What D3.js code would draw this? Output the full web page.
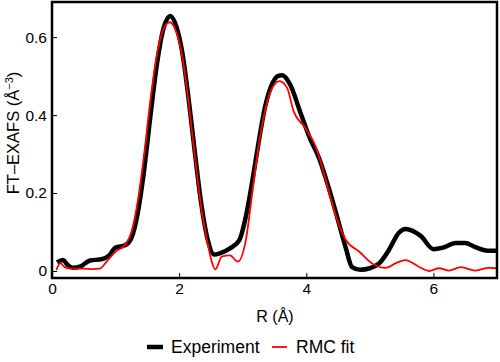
<!DOCTYPE html>
<html>
<head>
<meta charset="utf-8">
<script src="https://cdn.jsdelivr.net/npm/d3@7"></script>
<style>
  body { margin: 0; background: #fff; }
  text { font-family: "Liberation Sans", Arial, sans-serif; fill: #000; }
</style>
</head>
<body>
<div id="chart-area"></div>
<script>
// Experiment (black) — R in Å, FT magnitude
var expR = [0.08, 0.17, 0.25, 0.33, 0.45, 0.6, 0.78, 0.9, 1.0, 1.15, 1.25, 1.35, 1.45, 1.55, 1.65, 1.75, 1.86, 1.95, 2.05, 2.15, 2.25, 2.35, 2.45, 2.55, 2.65, 2.8, 2.95, 3.05, 3.15, 3.25, 3.35, 3.45, 3.55, 3.62, 3.75, 3.9, 4.05, 4.2, 4.35, 4.5, 4.62, 4.72, 4.85, 5.0, 5.15, 5.3, 5.45, 5.56, 5.8, 6.0, 6.15, 6.35, 6.5, 6.65, 6.85, 7.0];
var expY = [0.022, 0.028, 0.015, 0.008, 0.012, 0.027, 0.030, 0.040, 0.060, 0.066, 0.085, 0.15, 0.26, 0.40, 0.53, 0.62, 0.654, 0.63, 0.56, 0.44, 0.30, 0.17, 0.08, 0.042, 0.046, 0.058, 0.08, 0.14, 0.23, 0.33, 0.42, 0.475, 0.50, 0.502, 0.477, 0.41, 0.343, 0.29, 0.215, 0.13, 0.06, 0.01, 0.003, 0.007, 0.02, 0.054, 0.097, 0.108, 0.09, 0.056, 0.06, 0.072, 0.072, 0.062, 0.052, 0.052];

// RMC fit (red)
var rmcR = [0.07, 0.13, 0.2, 0.3, 0.5, 0.65, 0.75, 0.86, 1.0, 1.15, 1.25, 1.35, 1.45, 1.55, 1.65, 1.75, 1.85, 1.95, 2.05, 2.15, 2.25, 2.35, 2.45, 2.52, 2.57, 2.67, 2.8, 2.92, 3.05, 3.15, 3.25, 3.35, 3.45, 3.58, 3.7, 3.8, 3.98, 4.15, 4.25, 4.36, 4.47, 4.62, 4.83, 5.03, 5.25, 5.41, 5.56, 5.77, 5.93, 6.09, 6.24, 6.43, 6.66, 6.87, 7.0];
var rmcY = [0.003, 0.02, 0.01, 0.006, 0.006, 0.005, 0.006, 0.024, 0.05, 0.067, 0.1, 0.18, 0.30, 0.44, 0.555, 0.62, 0.638, 0.615, 0.55, 0.43, 0.29, 0.16, 0.07, 0.02, 0.004, 0.037, 0.04, 0.024, 0.08, 0.2, 0.32, 0.41, 0.465, 0.487, 0.469, 0.41, 0.368, 0.318, 0.267, 0.2, 0.139, 0.08, 0.05, 0.02, 0.008, 0.02, 0.028, 0.011, 0.0, 0.007, 0.001, 0.01, 0.001, 0.008, 0.007];

var xTicks = [0, 2, 4, 6];
var yTicks = [0, 0.2, 0.4, 0.6];

var margin = { top: 2, left: 52, bottom: 84, right: 3 };
var width = 500 - margin.left - margin.right;
var height = 362 - margin.top - margin.bottom;

var svg = d3.select('#chart-area').append('svg')
    .attr('width', 500)
    .attr('height', 362);

var g = svg.append('g').attr('transform', `translate(${margin.left}, ${margin.top})`);

var x = d3.scaleLinear().domain([0, 7]).range([0, width]);
var y = d3.scaleLinear().domain([-0.018, 0.69]).range([height, 0]);

var line = d3.line()
    .x(d => x(d[0]))
    .y(d => y(d[1]))
    .curve(d3.curveMonotoneX);

var expData = expR.map((r, i) => [r, expY[i]]);
var rmcData = rmcR.map((r, i) => [r, rmcY[i]]);

g.append('path').datum(expData)
    .attr('d', line)
    .attr('fill', 'none')
    .attr('stroke', '#000')
    .attr('stroke-width', 4.5)
    .attr('stroke-linejoin', 'round');

g.append('path').datum(rmcData)
    .attr('d', line)
    .attr('fill', 'none')
    .attr('stroke', '#ff0000')
    .attr('stroke-width', 1.8)
    .attr('stroke-linejoin', 'round');

// axes, ticks pointing inward
var xAxis = g.append('g').attr('transform', `translate(0, ${height})`)
    .call(d3.axisBottom(x).tickValues(xTicks).tickSizeInner(-5).tickSizeOuter(0).tickPadding(5).tickFormat(d3.format('d')));
var yAxis = g.append('g')
    .call(d3.axisLeft(y).tickValues(yTicks).tickSizeInner(-5).tickSizeOuter(0).tickPadding(5).tickFormat(d => d === 0 ? '0' : d3.format('.1f')(d)));

[xAxis, yAxis].forEach(a => {
    a.select('.domain').remove();
    a.selectAll('.tick line').attr('stroke', '#000').attr('stroke-width', 1);
    a.selectAll('.tick text').attr('font-size', '15.5px').attr('fill', '#000')
        .style('font-family', '"Liberation Sans", Arial, sans-serif');
});

// frame
g.append('rect')
    .attr('x', 0).attr('y', 0)
    .attr('width', width).attr('height', height)
    .attr('fill', 'none')
    .attr('stroke', '#000')
    .attr('stroke-width', 2.5);

// axis labels
svg.append('text')
    .attr('x', 275)
    .attr('y', 322)
    .attr('text-anchor', 'middle')
    .attr('font-size', '16px')
    .text('R (Å)');

var yLabel = svg.append('text')
    .attr('transform', 'translate(19, 133) rotate(-90)')
    .attr('text-anchor', 'middle')
    .attr('font-size', '16.5px');
yLabel.append('tspan').text('FT–EXAFS (Å');
yLabel.append('tspan').attr('baseline-shift', 'super').attr('font-size', '11px').text('−3');
yLabel.append('tspan').text(')');

// legend
var legend = svg.append('g');
legend.append('line').attr('x1', 147).attr('x2', 163).attr('y1', 347).attr('y2', 347)
    .attr('stroke', '#000').attr('stroke-width', 4.5);
legend.append('text').attr('x', 171).attr('y', 352.5).attr('font-size', '17.5px').text('Experiment');
legend.append('line').attr('x1', 272).attr('x2', 287).attr('y1', 347).attr('y2', 347)
    .attr('stroke', '#ff0000').attr('stroke-width', 1.8);
legend.append('text').attr('x', 296).attr('y', 352.5).attr('font-size', '17.5px').text('RMC fit');
</script>
</body>
</html>
